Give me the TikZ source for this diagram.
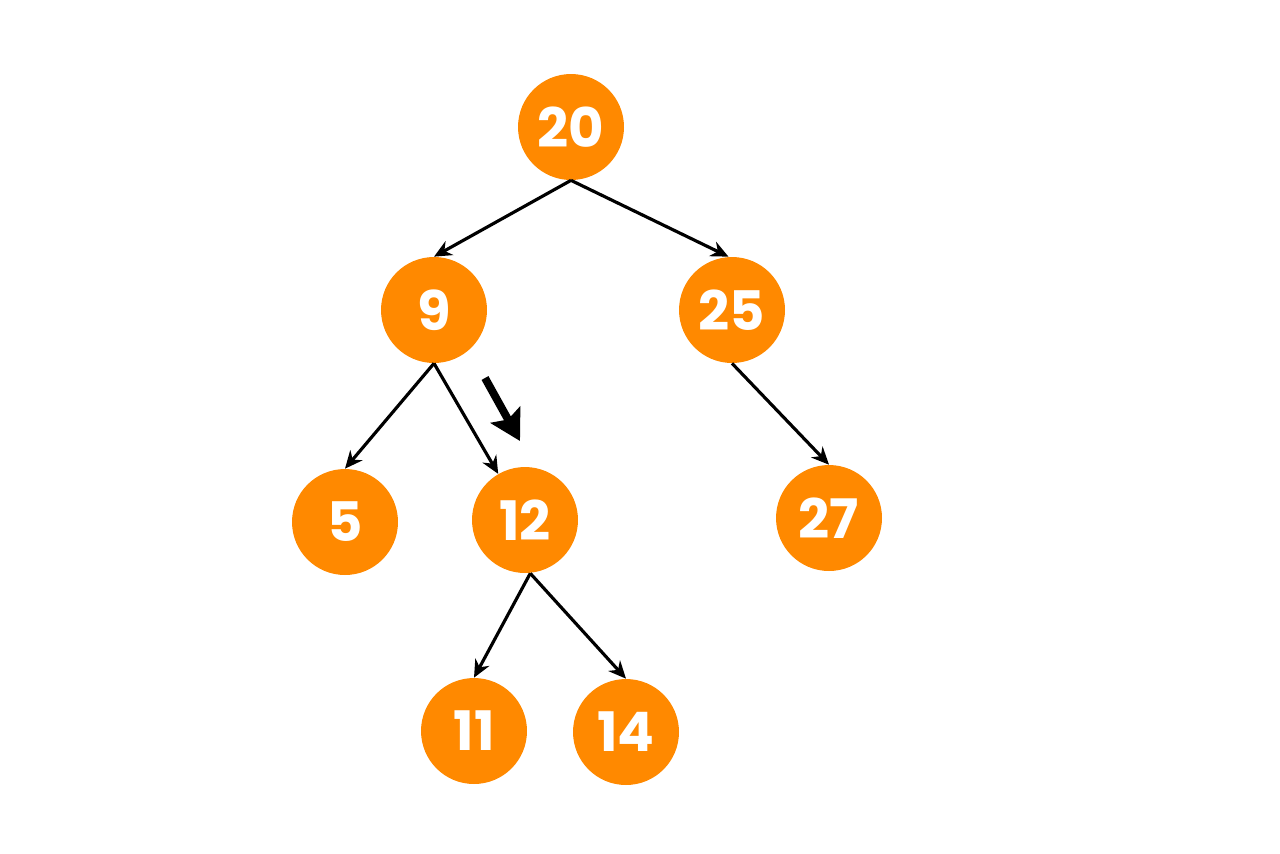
\documentclass[tikz,border=0pt]{standalone}
\usepackage{fontspec}
\setmainfont{Poppins}
\usetikzlibrary{arrows.meta}
\definecolor{nodeorange}{RGB}{255,137,0}
\begin{document}
\begin{tikzpicture}[x=0.02cm,y=-0.02cm,
  bstnode/.style={circle,fill=nodeorange,minimum size=2.12cm,inner sep=0pt,text=white,font=\fontsize{31}{31}\selectfont\bfseries},
  edge/.style={line width=1.8pt,-{Stealth[length=10pt,width=9pt]}},
  pointer/.style={line width=4.5pt,-{Stealth[length=17pt,width=19pt,inset=3pt]}}]
\useasboundingbox (0,0) rectangle (1280,853);
\node[bstnode] (n20) at (571,127) {20};
\node[bstnode] (n9) at (434,310) {9};
\node[bstnode] (n25) at (732,310) {25};
\node[bstnode] (n5) at (345,522) {5};
\node[bstnode] (n12) at (525,520) {12};
\node[bstnode] (n27) at (829,518) {27};
\node[bstnode] (n11) at (474,731) {11};
\node[bstnode] (n14) at (626,732) {14};
\draw[edge] (n20.south) -- (n9.north);
\draw[edge] (n20.south) -- ([xshift=-2]n25.north);
\draw[edge] (n9.south) -- (n5.north);
\draw[edge] (n9.south) -- (n12);
\draw[edge] (n25.south) -- (n27.north);
\draw[edge] ([xshift=3]n12.south) -- (n11.north);
\draw[edge] ([xshift=3]n12.south) -- (n14.north);
\coordinate (p1) at (485,378);
\coordinate (p2) at (520,441);
\draw[pointer] (p1) -- (p2);
\end{tikzpicture}
\end{document}
